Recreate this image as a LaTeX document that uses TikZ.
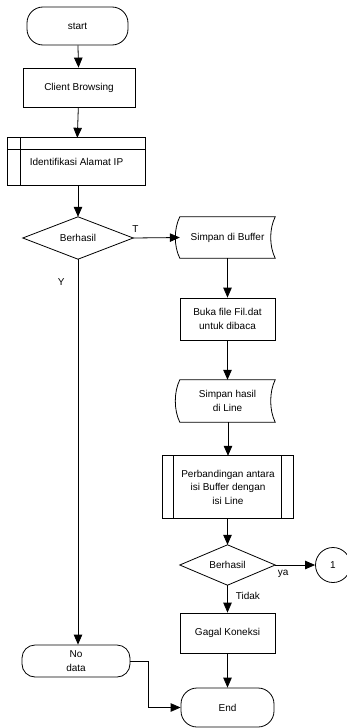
\documentclass[tikz,border=0pt]{standalone}
\usepackage{fontspec}
\setmainfont{Liberation Sans}
\usetikzlibrary{arrows.meta}
\begin{document}
\begin{tikzpicture}[x=1pt,y=-1pt,
  every node/.style={font=\fontsize{10}{13.5}\selectfont, align=center, inner sep=0pt},
  sz/.style 2 args={minimum width=#1pt, minimum height=#2pt},
  box/.style={draw, line width=0.8pt},
  term/.style={draw, line width=0.8pt, rounded corners=#1pt},
  ghost/.style={draw=none},
  outline/.style={line width=0.8pt},
  arr/.style={line width=0.8pt, -{Triangle[length=10pt,width=8.5pt]}},
  lbl/.style={font=\fontsize{10}{12}\selectfont}
]
\useasboundingbox (0,0) rectangle (347,728);

% nodes
\node[term=16, sz={101}{38}] (start) at (77.5,26) {start};
\node[box, sz={112}{39}] (cb) at (79,87.5) {Client Browsing};
\node[ghost, sz={137}{47}] (ip) at (76.5,161.5) {Identifikasi Alamat IP};
\node[ghost, sz={110}{42}] (d1) at (78,238) {Berhasil};
\node[ghost, sz={95}{41}] (buf) at (227.5,237.5) {Simpan di Buffer};
\node[box, sz={95}{42}] (buka) at (227.5,319) {Buka file Fil.dat\\untuk dibaca};
\node[ghost, sz={95}{42}] (hasil) at (227.5,401) {Simpan hasil\\di Line};
\node[ghost, sz={130}{62}] (banding) at (228,487) {Perbandingan antara\\isi Buffer dengan\\isi Line};
\node[ghost, sz={95}{40}] (d2) at (227.5,565) {Berhasil};
\node[draw, line width=0.8pt, circle, minimum size=35pt] (c1) at (333,565) {1};
\node[box, sz={95}{40}] (gagal) at (227.5,633) {Gagal Koneksi};
\node[term=16, sz={93}{39}] (end) at (227.5,707.5) {End};
\node[term=13, sz={108}{32}] (nodata) at (76,661) {No\\data};

% internal storage outline
\draw[outline] (ip.north west) rectangle (ip.south east);
\draw[outline] ([xshift=13pt]ip.north west) -- ([xshift=13pt]ip.south west);
\draw[outline] ([yshift=-12pt]ip.north west) -- ([yshift=-12pt]ip.north east);

% diamonds
\draw[outline] (d1.north) -- (d1.east) -- (d1.south) -- (d1.west) -- cycle;
\draw[outline] (d2.north) -- (d2.east) -- (d2.south) -- (d2.west) -- cycle;

% stored data shapes
\draw[outline] (buf.north west) .. controls +(-6,12) and +(-6,-12) .. (buf.south west)
  -- (buf.south east) .. controls +(-6,-12) and +(-6,12) .. (buf.north east) -- cycle;
\draw[outline] (hasil.north west) .. controls +(-6,12) and +(-6,-12) .. (hasil.south west)
  -- (hasil.south east) .. controls +(-6,-12) and +(-6,12) .. (hasil.north east) -- cycle;

% predefined process
\draw[outline] (banding.north west) rectangle (banding.south east);
\draw[outline] ([xshift=11pt]banding.north west) -- ([xshift=11pt]banding.south west);
\draw[outline] ([xshift=-12pt]banding.north east) -- ([xshift=-12pt]banding.south east);

% connectors
\draw[arr] (start) -- (cb);
\draw[arr] (cb) -- (ip);
\draw[arr] (ip.south -| d1.north) -- (d1.north);
\draw[arr] (d1.east) -- node[lbl, pos=0.05, anchor=south, yshift=5pt] {T} (buf.west);
\draw[arr] (buf) -- (buka);
\draw[arr] (buka) -- (hasil);
\draw[arr] (hasil.south -| banding.north) -- (banding.north);
\draw[arr] (banding.south -| d2.north) -- (d2.north);
\draw[arr] (d2.east) -- node[lbl, pos=0.2, below=5pt] {ya} (c1.west);
\draw[arr] (d2.south) -- node[lbl, pos=0.4, right=8pt] {Tidak} (gagal.north);
\draw[arr] (gagal) -- (end);
\draw[arr] (d1.south) -- node[lbl, pos=0.06, left=13pt] {Y} (d1.south |- nodata.north);
\draw[arr] (nodata.east) -- ++(18,0) |- (end.west);
\end{tikzpicture}
\end{document}
